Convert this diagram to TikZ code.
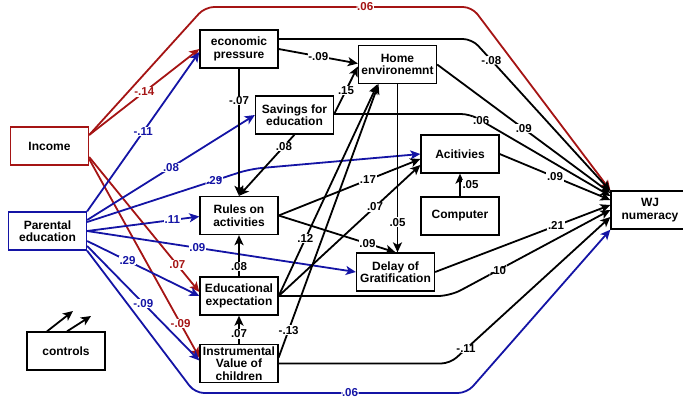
\documentclass[tikz,border=0pt]{standalone}
\usepackage{fontspec}
\setmainfont{Liberation Sans}
\usetikzlibrary{arrows.meta,calc}
\definecolor{incred}{RGB}{165,20,20}
\definecolor{edublue}{RGB}{20,20,165}
\begin{document}
\begin{tikzpicture}[x=1pt, y=-1pt,
  box/.style={draw, line width=1.3pt, minimum width=78pt, minimum height=38pt,
    inner sep=1pt, align=center, font=\bfseries\fontsize{12}{12.5}\selectfont},
  link/.style={line width=1.8pt, -{Stealth[length=10pt,width=9pt,inset=2.5pt]}},
  redlink/.style={link, draw=incred},
  bluelink/.style={link, draw=edublue},
  lbl/.style={fill=white, inner sep=0.6pt, font=\bfseries\fontsize{11.5}{12}\selectfont}]
  \useasboundingbox (0,0) rectangle (683,400);

  \node[box, draw=incred] (inc) at (49.5,146) {Income};
  \node[box, draw=edublue] (pedu) at (47.5,231) {Parental\\education};
  \node[box] (econ) at (239,49) {economic\\pressure};
  \node[box] (home) at (397.5,64.5) {Home\\environemnt};
  \node[box] (save) at (294.5,115) {Savings for\\education};
  \node[box] (act) at (460,154) {Acitivies};
  \node[box] (comp) at (460,216) {Computer};
  \node[box] (rules) at (239,215.5) {Rules on\\activities};
  \node[box] (delay) at (395.5,272) {Delay of\\Gratification};
  \node[box] (eduexp) at (239,296) {Educational\\expectation};
  \node[box] (instr) at (239,363.5) {Instrumental\\Value of\\children};
  \node[box] (wj) at (650,210) {WJ\\numeracy};
  \node[box] (ctrl) at (66,351) {controls};

  \coordinate (rtl) at (205,7);
  \coordinate (rtr) at (472,7);
  \coordinate (bbl) at (195,393);
  \coordinate (bbr) at (467,393);
  \coordinate (bact) at (250,169);
  \coordinate (ebend) at (472,39);
  \coordinate (sbend) at (470,114);
  \coordinate (xbend) at (450,296);
  \coordinate (ibend) at (450,363.5);
  \coordinate (ca) at (73,311);
  \coordinate (cb) at (91,316);

  \draw [redlink, rounded corners=9pt] ($(inc.east)+(0,-11)$) -- (rtl)
        -- node[lbl, text=incred, pos=0.6] {.06} (rtr) -- (wj.north west);
  \draw [redlink] ($(inc.east)+(0,-11)$) -- node[lbl, text=incred] {-.14} (econ.west);
  \draw [redlink] ($(inc.east)+(0,11)$) -- node[lbl, text=incred, pos=0.8] {.07} ($(eduexp.west)+(0,-4)$);
  \draw [redlink] ($(inc.east)+(0,13)$) -- node[lbl, text=incred, pos=0.83] {-.09} ($(instr.west)+(0,-6)$);

  \draw [bluelink] (pedu.north east) -- node[lbl, text=edublue] {-.11} ($(econ.west)+(0,3)$);
  \draw [bluelink] ($(pedu.east)+(0,-11)$) -- node[lbl, text=edublue] {.08} (save.west);
  \draw [bluelink, rounded corners=12pt] ($(pedu.east)+(0,-9)$)
        -- node[lbl, text=edublue, pos=0.78] {.29} (bact) -- (act.west);
  \draw [bluelink] (pedu.east) -- node[lbl, text=edublue, pos=0.76] {.11} ($(rules.west)+(0,1)$);
  \draw [bluelink] (pedu.east) -- node[lbl, text=edublue, pos=0.41] {.09} (delay.west);
  \draw [bluelink] ($(pedu.east)+(0,10)$) -- node[lbl, text=edublue, pos=0.36] {.29} (eduexp.west);
  \draw [bluelink] ($(pedu.east)+(0,15)$) -- node[lbl, text=edublue] {-.09} ($(instr.west)+(0,-3)$);
  \draw [bluelink, rounded corners=9pt] (pedu.south east) -- (bbl)
        -- node[lbl, text=edublue, pos=0.57] {.06} (bbr) -- (wj.south west);

  \draw [link] (econ.east) -- node[lbl] {-.09} ($(home.west)+(0,-1)$);
  \draw [link, rounded corners=9pt] ($(econ.east)+(0,-10)$) -- (ebend)
        -- node[lbl, pos=0.14] {-.08} ($(wj.west)+(0,-19)$);
  \draw [link] (econ.south) -- node[lbl, pos=0.25] {-.07} (rules.north);

  \draw [link] ($(save.east)+(0,-1)$) -- node[lbl] {.15} ($(home.west)+(0,2)$);
  \draw [link, rounded corners=9pt] ($(save.east)+(0,-1)$) -- (sbend)
        -- node[lbl, pos=0.08] {.06} ($(wj.west)+(0,-14)$);
  \draw [link] (save.south) -- node[lbl, pos=0.19] {.08} (rules.north);

  \draw [link] (home.east) -- node[lbl] {.09} ($(wj.west)+(0,-17)$);
  \draw [link] (home.south) -- node[lbl, pos=0.82] {.05} (home.south |- delay.north);

  \draw [link] (act.east) -- node[lbl] {.09} ($(wj.west)+(0,-10)$);
  \draw [link] (comp.north) -- node[lbl, right=1pt] {.05} (act.south);

  \draw [link] (rules.east) -- node[lbl, pos=0.63] {.17} ($(act.west)+(0,5)$);
  \draw [link] (rules.east) -- node[lbl, pos=0.76] {.09} (delay.north);

  \draw [link] (eduexp.north) -- node[lbl, pos=0.24] {.08} (rules.south);
  \draw [link] (eduexp.east) -- node[lbl, pos=0.27] {.12} ($(home.south)+(-20,0)$);
  \draw [link] (eduexp.east) -- node[lbl, pos=0.68] {.07} ($(act.west)+(0,11)$);
  \draw [link, rounded corners=12pt] (eduexp.east) -- (xbend)
        -- node[lbl, pos=0.3] {.10} (wj.west);

  \draw [link] (instr.north) -- node[lbl, pos=0.35] {.07} (eduexp.south);
  \draw [link] ($(instr.east)+(0,-6)$) -- node[lbl, pos=0.1] {-.13} ($(home.south)+(-19,0)$);
  \draw [link, rounded corners=9pt] (instr.east) -- (ibend)
        -- node[lbl, pos=0.1] {-.11} ($(wj.west)+(0,7)$);

  \draw [link] (delay.east) -- node[lbl, pos=0.69] {.21} ($(wj.west)+(0,-5)$);

  \draw [link] ($(ctrl.north)+(-19,0)$) -- (ca);
  \draw [link] ($(ctrl.north)+(1,0)$) -- (cb);
\end{tikzpicture}
\end{document}
